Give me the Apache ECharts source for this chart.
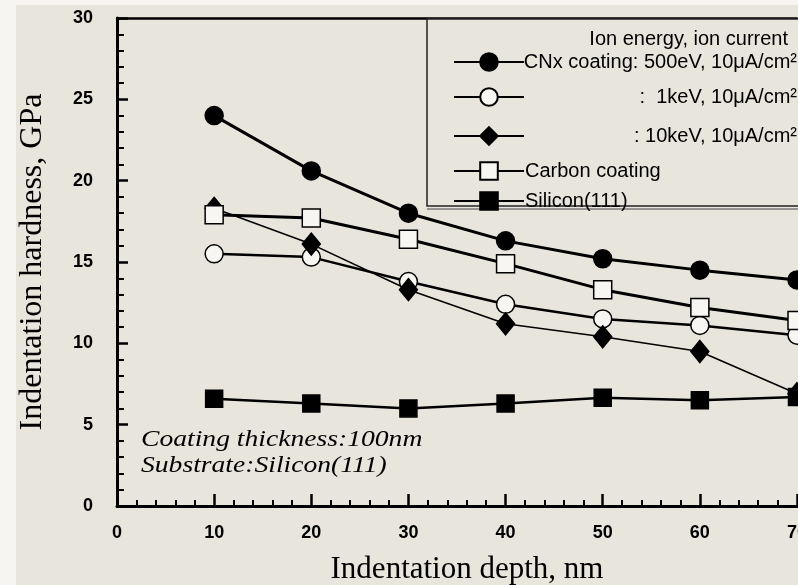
<!DOCTYPE html>
<html>
<head>
<meta charset="utf-8">
<script src="https://cdn.jsdelivr.net/npm/echarts@6/dist/echarts.min.js"></script>
<style>
  html, body { margin: 0; padding: 0; background: #e8e5dd; }
  #chart { width: 798px; height: 585px; }
</style>
</head>
<body>
<div id="chart"></div>
<script>
// indentation depth, nm
const depths = [10, 20, 30, 40, 50, 60, 70];
// hardness, GPa
const cnx500 = [24.0, 20.6, 18.0, 16.3, 15.2, 14.5, 13.9];
const cnx1k = [15.5, 15.3, 13.8, 12.4, 11.5, 11.1, 10.5];
const cnx10k = [18.3, 16.1, 13.3, 11.2, 10.4, 9.5, 6.9];
const carbon = [17.9, 17.7, 16.4, 14.9, 13.3, 12.2, 11.4];
const silicon = [6.6, 6.3, 6.0, 6.3, 6.65, 6.5, 6.7];

const names = [
  "CNx coating: 500eV, 10\u03bcA/cm\u00b2",
  ":  1keV, 10\u03bcA/cm\u00b2",
  ": 10keV, 10\u03bcA/cm\u00b2",
  "Carbon coating",
  "Silicon(111)"
];

const pairs = (vals) => depths.map((d, i) => [d, vals[i]]);

const chart = echarts.init(document.getElementById("chart"));

const sans = "Liberation Sans";
const serif = "Liberation Serif";

// one legend per row, rows are not evenly spaced in the original
const legendRows = [58, 93, 132, 167, 197];
const legends = names.map((n, i) => ({
  data: [n],
  left: 448,
  top: legendRows[i] - 11,
  itemWidth: 70,
  itemHeight: 22,
  itemGap: 0,
  selectedMode: false,
  textStyle: {
    fontFamily: sans,
    fontSize: 20,
    color: "#000",
    padding: [0, 0, 0, -4],
    rich: {
      r: { fontFamily: sans, fontSize: 20, color: "#000", width: 272, align: "right" }
    }
  },
  formatter: i < 3 ? "{r|{name}}" : "{name}"
}));

const mk = (name, vals, symbol, size, fill, lw) => ({
  name: name,
  type: "line",
  data: pairs(vals),
  symbol: symbol,
  symbolSize: size,
  showSymbol: true,
  z: 3,
  lineStyle: { color: "#000", width: lw },
  itemStyle: { color: fill, borderColor: "#000", borderWidth: 1.5, opacity: 1 },
  emphasis: { disabled: true }
});

chart.setOption({
  backgroundColor: "#e8e5dd",
  animation: false,
  grid: { left: 117, right: 1, top: 18, bottom: 79, outerBoundsMode: "none" },
  legend: legends,
  graphic: [
    { type: "rect", shape: { x: 0, y: 0, width: 16, height: 585 }, style: { fill: "#f6f5f1" }, z: -10 },
    { type: "rect", shape: { x: 0, y: 0, width: 798, height: 5 }, style: { fill: "#f6f5f1" }, z: -10 },
    {
      type: "rect",
      shape: { x: 427, y: 19, width: 380, height: 187 },
      style: { fill: "#e8e5dd", stroke: "#222", lineWidth: 1.5 },
      z: 1
    },
    {
      type: "line",
      shape: { x1: 427, y1: 209, x2: 798, y2: 209 },
      style: { stroke: "#444", lineWidth: 1 },
      z: 1
    },
    {
      type: "text",
      right: 10,
      top: 29,
      style: { text: "Ion energy, ion current", fontFamily: sans, fontSize: 20, fill: "#000" },
      z: 5
    },
    {
      type: "text",
      x: 141,
      y: 427,
      scaleX: 1.15,
      style: {
        text: "Coating thickness:100nm\nSubstrate:Silicon(111)",
        fontFamily: serif,
        fontStyle: "italic",
        fontSize: 24,
        lineHeight: 26,
        fill: "#000"
      },
      z: 5
    }
  ],
  xAxis: [
    {
      type: "value",
      min: 0,
      max: 70,
      interval: 10,
      name: "Indentation depth, nm",
      nameLocation: "middle",
      nameGap: 48,
      nameTextStyle: { fontFamily: serif, fontSize: 31, color: "#000", padding: [0, 0, 0, 20] },
      axisLine: { lineStyle: { color: "#000", width: 3 } },
      axisTick: { inside: true, length: 12, lineStyle: { color: "#000", width: 2.5 } },
      minorTick: { show: true, splitNumber: 5, length: 6, lineStyle: { color: "#000", width: 2 } },
      axisLabel: { fontFamily: sans, fontWeight: "bold", fontSize: 18, color: "#000", margin: 18 },
      splitLine: { show: false }
    },
    {
      type: "value",
      position: "top",
      min: 0,
      max: 70,
      axisLine: { show: true, lineStyle: { color: "#000", width: 2.5 } },
      axisTick: { show: false },
      axisLabel: { show: false },
      splitLine: { show: false }
    }
  ],
  yAxis: {
    type: "value",
    min: 0,
    max: 30,
    interval: 5,
    name: "Indentation hardness, GPa",
    nameLocation: "middle",
    nameGap: 68,
    nameTextStyle: { fontFamily: serif, fontSize: 32, color: "#000" },
    axisLine: { show: true, lineStyle: { color: "#000", width: 3 } },
    axisTick: { inside: true, length: 11, lineStyle: { color: "#000", width: 2.5 } },
    minorTick: { show: true, splitNumber: 5, length: 7, lineStyle: { color: "#000", width: 2 } },
    axisLabel: { fontFamily: sans, fontWeight: "bold", fontSize: 18, color: "#000", margin: 24 },
    splitLine: { show: false }
  },
  series: [
    mk(names[0], cnx500, "circle", 18, "#000", 3),
    mk(names[1], cnx1k, "circle", 18, "#f7f6f2", 2.5),
    mk(names[2], cnx10k, "diamond", [18, 22], "#000", 1.6),
    mk(names[3], carbon, "rect", 18, "#f7f6f2", 3),
    mk(names[4], silicon, "rect", 17, "#000", 2.5)
  ]
});
</script>
</body>
</html>
